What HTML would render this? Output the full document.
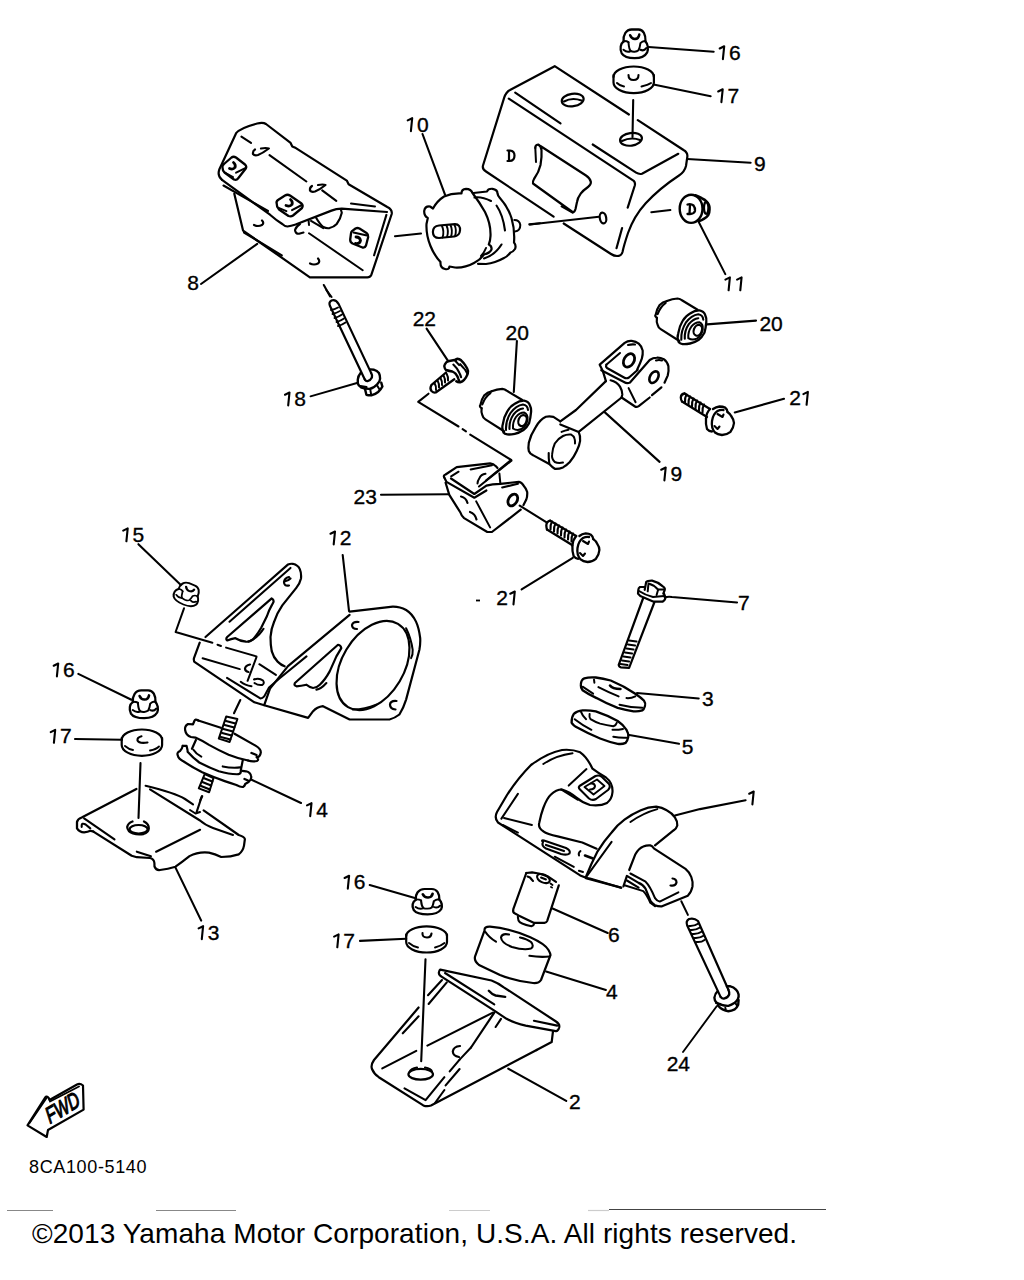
<!DOCTYPE html>
<html><head><meta charset="utf-8">
<style>
html,body{margin:0;padding:0;background:#fff;}
body{width:1024px;height:1280px;position:relative;overflow:hidden;font-family:"Liberation Sans",sans-serif;}
svg{position:absolute;left:0;top:0;}
.lbl{font-family:"Liberation Sans",sans-serif;font-size:21px;fill:#000;stroke:#000;stroke-width:0.35px;}
.copy{position:absolute;left:32px;top:1218.4px;font-size:28px;color:#000;white-space:nowrap;letter-spacing:0.08px;}
</style></head><body>
<svg width="1024" height="1280" viewBox="0 0 1024 1280">
<g fill="none" stroke="#000" stroke-width="2.2" stroke-linecap="round" stroke-linejoin="round">
<!-- 01_top16_17.svg -->
<!-- nut 16 top -->
<g transform="translate(634.6,36.5) rotate(0) scale(0.97,1.02)" stroke-width="2.3">
<path d="M-11.4,5 C-12,-1 -9,-6.9 -3,-6.9 L4,-6.9 C9,-6.9 11.5,-2 11.3,5"/>
<path d="M-11.4,5 C-14.5,7 -15.5,12 -13.3,16.5 C-11,20 -6,21.2 0,21.2 C6,21.2 11,19 13,15.5 C14.5,12 13.5,7 11.3,5"/>
<path d="M-11.5,13 C-9,15 -6.5,15.5 -4,14.2" stroke-width="2"/>
<path d="M-6.3,5.6 C-6,9 -6,12 -4,14.2 C-2,15.2 2,15.2 4,13.5 C5.5,11 5.8,8 6,6.5 C7.5,5 9,4.5 10.5,4.4" stroke-width="2"/>
<path d="M-11,4.5 C-9,4.5 -7,5 -6.3,5.6" stroke-width="2"/>
<path d="M6,13 C8,14 10.5,13.5 12,11.5" stroke-width="2.1"/>
<path d="M-4.6,-1.2 Q-3,2.6 0.5,2.4 Q4,2.2 4.8,-1.8" stroke-width="2.6"/>
</g>
<path d="M648.6,47 L713.7,51.8" stroke-width="2"/>
<!-- washer 17 top -->
<path d="M613.5,77 A20.2,10.5 0 0 1 653.9,77"/>
<path d="M613.5,75 L613.5,82.5 A20.2,10.6 0 0 0 653.9,82.5 L653.9,75"/>
<path d="M617,83 Q620,86 624,86.5" stroke-width="2"/>
<path d="M641.5,86.5 Q648,85 651,83" stroke-width="2"/>
<path d="M628.5,75 Q628.5,80 633.5,80 Q638.5,80 638.5,75" stroke-width="2.1"/>
<path d="M653.5,84.5 L710.7,96.2" stroke-width="2"/>
<path d="M633.2,100 L632.5,137" stroke-width="2.1"/>

<!-- 02_bracket9.svg -->
<!-- bracket 9 -->
<path d="M553.6,216.7 L486,171.5 Q482,169 483,165.5 L504.2,97.7 Q506,92 510,90 L554.7,66.2 L628.9,114.5"/>
<path d="M637.8,120.1 L683.5,150 Q688,152.5 687.3,157 L686,166 Q684.5,172 679,175.5 Q660,188 645.7,203.2 Q634,216 628,233 Q624,245 622.5,252 Q621.5,256 617,256 Q614,256 611,254 L563.7,223.5"/>
<path d="M515.2,92.7 L560.5,123.4"/>
<path d="M508.8,98.6 L633.75,180.9 Q635.5,182.5 634.8,185.5 L627.7,207.7"/>

<path d="M592.7,144.5 L636.1,172.7 Q639,174.5 642,173.8 L678.3,153.8"/>

<path d="M622.1,228 L616.5,248.2"/>
<!-- window -->
<path d="M540.4,146 L586,175.5 Q590,178 590.9,181.9 Q591,185 588,187 Q583,190.5 580.7,193.6 Q577.5,198 577,202 L575.5,209 Q574.5,212.5 572.5,212 L533,183.5 Q532.5,181.5 534,179 Q539,172 540.5,165 Q542,157 541.5,150 Q541,146 538.2,144.5 Q535,145 535.3,148"/>
<path d="M535.3,148 L536,162" stroke-width="2"/>
<path d="M561.6,206.4 L572.6,212.7" stroke-width="2.1"/>
<!-- holes -->
<ellipse cx="572.7" cy="100" rx="11" ry="6.2" transform="rotate(-8 572.7 100)"/>
<path d="M564,101.5 Q572,97 581.5,100.5" stroke-width="2.1"/>
<ellipse cx="631" cy="139.3" rx="11" ry="6.3" transform="rotate(-8 631 139.3)"/>
<path d="M622,141 Q631,136.5 640,140" stroke-width="2.1"/>
<path d="M507.5,150.5 L510,150.5 Q514.5,151 514.5,155.5 Q514.5,161 509.5,161 L507.5,161 M509,151 L509,161" stroke-width="2.2"/>
<ellipse cx="603" cy="218" rx="3.2" ry="5.5" transform="rotate(-10 603 218)"/>
<path d="M530,224.6 L599,216.8" stroke-width="2"/>
<path d="M651.3,212.2 L670.4,210" stroke-width="2"/>
<path d="M687.2,159 L750.6,162.8" stroke-width="2.1"/>

<!-- 03_cap11.svg -->
<!-- cap 11 -->
<ellipse cx="691.1" cy="208.8" rx="11.4" ry="14.1" stroke-width="2.4"/>
<path d="M695.4,195.3 Q699,196.5 701.7,198.2 Q705,199.5 707.1,202.1 Q710,205.5 709.5,209.4 Q709.5,213 708.1,215.3 Q706.5,217.5 704.2,218.7 Q701.5,220.5 699.3,221.1" stroke-width="2.6"/>
<ellipse cx="706.2" cy="207.8" rx="2.2" ry="6" stroke-width="2.2"/>
<path d="M687.5,204.5 Q691,203.5 693.5,205.5 Q695.5,208 695,211 Q694,214 690,214 L687.5,214 M690,205 L689.5,213.5" stroke-width="2.3"/>
<path d="M698.6,221.8 L725.3,274.1" stroke-width="2"/>

<!-- 04_mount10.svg -->
<!-- mount 10 -->
<path d="M461.5,193.5 Q461.5,189 466,188.9 Q471,189 472.5,193 Q480,203 485,212 Q491,224 490.5,236 Q490.3,241 488.8,244.5 Q492,246 491.5,249.5 Q490,253 484,254.5 Q480,260 474,263 Q465,268 455,267.5 L449.5,266.5 Q449,270 445,269 Q440,268 440.5,262 Q434,255 430.5,246 Q426,235 426.5,224 L427.8,218 Q424,216 424.2,211 Q425,206 430,206.5 L433,208.5 Q437,201 444,196.5 Q452,193 461.5,193.5 Z"/>
<path d="M473.5,193 L487,191.5 Q488,188.5 492.5,188.8 Q497.5,189.5 497.5,193.5 Q498,196 499.5,197.5 Q508,207 511.5,218 Q515,230 514,242.5 Q516.5,245.5 515,249 Q513,252 510.5,252.5 Q507,257 504,258 Q495,263 486,264 L478,263.8"/>
<path d="M474.5,197.5 Q482,196.5 491,201" stroke-width="2.1"/>
<path d="M496.5,205.5 Q503,215 505,230.5" stroke-width="2.1"/>
<path d="M501.5,244.5 Q495,255 484,258.5" stroke-width="2.1"/>
<path d="M486,248 Q484,253 481,256" stroke-width="2"/>
<path d="M514.3,220 Q519.5,220 520.3,225 Q520.3,231 515,231.5" stroke-width="2"/>
<!-- stud -->
<path d="M439,225.5 L455,224.2 Q460.5,224.5 460,230.5 Q459.5,236 454,236.5 L439,238 Q433,238 432.9,232 Q433,226 439,225.5 Z"/>
<path d="M442,226 Q444.5,231.5 442.5,237.5 M446.5,225.5 Q449,231 447,237 M450.5,225 Q453,230.5 451,236.5 M454.5,224.8 Q457,230 455,236.3" stroke-width="1.9"/>
<path d="M395,236.2 L421,233.5" stroke-width="2.1"/>
<path d="M529.3,224.4 L540,223.2" stroke-width="2.1"/>
<path d="M422.5,134 L445,194.7" stroke-width="2.1"/>

<!-- 05_bracket8.svg -->
<!-- bracket 8 -->
<path d="M222,179.8 Q217,176 219.4,169.2 L236.1,133.2 Q240,128 257.2,123.5 Q263,122 266,124 L290.6,142.9 L292.3,146.4 L295.9,148.1 L346.8,180.6 L348.6,184.2 L387.3,207 Q392.5,209.5 391.7,214 L371.4,274.7 Q370,277.5 367,277.3 L309.9,277.3 L243.1,230.7 L234.3,193.8"/>
<path d="M222,179.8 L270,214.7 Q276,220 282.3,224 Q285,226.5 287.4,226.5 Q291,226 295.6,224.5 L331.5,210.6 Q336,208.8 341.8,208.6 L387,212"/>
<path d="M223.5,185.5 L268,211" stroke-width="2.1"/>
<path d="M386.4,214.9 L374.1,255.3" stroke-width="2.1"/>
<path d="M309,233.2 L362.7,270.3" stroke-width="2"/>
<path d="M244,232.5 L281.8,255.4" stroke-width="2.1"/>
<path d="M316.1,217.8 Q320,224.5 323.3,227 Q326,228.5 329.5,228.1 Q334,227 336.7,224 Q340.5,219 341.8,212.7 L341,210" stroke-width="2.1"/>
<path d="M311,220.9 L323.3,228.1" stroke-width="2"/>
<path d="M300,224 Q296,226.5 295,230 Q295.5,234 299,233.8 L303.5,232.5" stroke-width="2.1"/>
<path d="M308.5,219.9 L309,225" stroke-width="2"/>
<path d="M351,203.5 L375,206.5" stroke-width="2"/>
<!-- nuts -->
<path d="M222.5,167.5 Q222,165.5 224,164 L231.5,157.5 Q233.5,156 236,157.5 L245,164.5 Q247,166.5 245.8,168.5 L238,178.5 Q236.5,180.5 234,179.5 L224.5,172.5 Q222.5,170.5 222.5,167.5 Z" stroke-width="2.3"/>
<path d="M224.7,172.5 L233,177.1 M236.1,172.7 L245.8,167.9" stroke-width="2"/>
<path d="M233.5,162.5 Q236,164.5 235,167.5 Q233,170 229.5,168.5" stroke-width="2.8"/>
<path d="M276.7,203.5 Q276,201.5 278,200 L285,195.5 Q287.5,194 290,195.5 L301.5,203.5 Q303.5,205.5 302,208 L293,215.5 Q291,217 288.5,216 L279,209.5 Q276.5,207 276.7,203.5 Z" stroke-width="2.3"/>
<path d="M279.2,208.1 L286.4,211.1 M292,210.1 L301.8,205" stroke-width="2"/>
<path d="M290.5,199.5 Q293,201.5 292,204.5 Q290,207 286,205.5" stroke-width="2.8"/>
<path d="M352,231.1 L355.5,228.5 Q357.5,227.5 359.5,228.5 L366.5,233 Q368.5,234.5 368.2,237 L366,245.5 Q365,248 362.5,247.5 L352.5,243.5 Q350,242 350.2,239.5 L351,233.5 Q351.2,231.8 352,231.1 Z" stroke-width="2.3"/>
<path d="M353.5,232.5 L367,235.5" stroke-width="2.1"/>
<path d="M356,237 Q360,237 360.5,240.5 Q360,244 355.5,243.5" stroke-width="2.8"/>
<!-- slots and dots -->
<path d="M255,149.5 Q252.5,151 253,154 Q254.5,156 258,155 Q263,153 268.8,148.5 Q266,147.5 261,148.5" stroke-width="2.2"/>
<path d="M312,186 Q309.5,187.5 310,190.5 Q311.5,192.5 315,191.5 Q320,189.5 325.5,185 Q323,184 318,185" stroke-width="2.2"/>
<path d="M262,220.5 Q264.5,223 262,225 Q258,227 254,225" stroke-width="2.2"/>
<path d="M318,258.5 Q320.5,261.5 318,263.5 Q314,265.5 310,263.5" stroke-width="2.2"/>
<path d="M241.4,136.7 L251,142.9" stroke-width="2.1"/>
<path d="M269.5,155.2 L306.4,181.5" stroke-width="2.1"/>
<path d="M322.2,190.3 L336.3,200.9" stroke-width="2.1"/>
<path d="M201,284 L257.2,243.9" stroke-width="2.1"/>
<path d="M323.8,285 L330,296.3" stroke-width="2.1"/>

<!-- 06_bolt18_22.svg -->
<!-- bolt 18 -->
<path d="M364.8,379.5 L329.9,305.8 Q328.5,302 331.5,300.5 Q335.5,299 338.7,304.1 L371.1,372.9"/>
<path d="M331,310 Q334.5,309.5 338,307.5 M332.5,314 Q336.5,313 340,311 M334.5,318 Q338.5,317 342,314.5 M336.5,322 Q340.5,321 344,318.5 M338,326 Q342,325 345.5,322.5" stroke-width="1.9"/>
<path d="M364.8,379.5 Q366,381.5 367.6,381.1 Q370.5,380.5 371.9,377.6 Q372.5,375 371.1,372.9" stroke-width="2.3"/>
<path d="M360.9,372.5 Q358,376 357.8,379.5 L357.8,383.4 Q358.5,386 360.9,387.3 Q365,389 369.5,388.9 Q374,388 377.3,384.2 Q380,381.5 380.1,378.75 Q380,375 378.9,372.9 Q377,370.5 374.2,369.8 L370.3,369.4" stroke-width="2.4"/>
<path d="M364.8,388.1 L366.4,394.8 Q369,395.5 371.9,395.2 Q375.5,394 378.1,392 Q381,389.5 382.4,386.6 L381.25,382.7" stroke-width="2.4"/>
<path d="M370.3,389.7 L371.1,394.4 M377.3,385.8 L379.7,389.7" stroke-width="2"/>
<path d="M360.5,386 L366.5,387" stroke-width="2.2"/>
<path d="M310.5,396.3 L357,383" stroke-width="1.9"/>
<path d="M326.4,290 L331.6,297" stroke-width="2"/>
<!-- bolt 22 -->
<path d="M431.3,385.2 Q429.5,388.5 431.5,391 Q433.5,393 435.7,392.5 L454.3,379.3 M431.3,385.2 L446,372.5" stroke-width="2.3"/>
<path d="M434.5,383 Q436.5,386.5 436,390 M437.5,380.5 Q439.5,384 439,387.5 M440.5,378 Q442.5,381.5 442,385 M443.5,375.5 Q445.5,379 445,382.5 M446.5,373.5 Q448.5,377 448,380.5" stroke-width="2"/>
<path d="M448,361.2 Q446,362 445,364.2 Q444,366 444.5,367.1 Q444.8,369 446,370 Q449,371 452.3,371.5 Q454.5,372.5 455.8,373.9 Q457.5,376 458.2,378.3 L459.2,381.2" stroke-width="2.4"/>
<path d="M448,361.2 L455.8,359.8" stroke-width="2.4"/>
<path d="M455.8,359.8 Q456.5,358.8 457.2,358.8 Q459.5,359 461.1,360.3 Q463.5,362.5 465.5,365.6 Q467.5,368.5 468,371 Q468,373.5 467,375.4 Q466,378 464.1,379.8 Q462.5,381.5 460.2,382.2 Q458,382.5 456.3,381.2" stroke-width="2.5"/>
<path d="M454.8,360.3 L459.2,365.1 M460.2,364.2 L464.1,368.6 M465,369.5 L467,373" stroke-width="2.1"/>
<path d="M453.3,364.6 Q457,368 459.2,372.5 Q460.5,375 461.1,377.3" stroke-width="2.1"/>
<path d="M426.6,328.7 L447.7,360.3" stroke-width="2.1"/>
<!-- dash-dot line 22 to 23 -->
<path d="M428.5,393.7 L418.2,401.9 L458.5,426.5" stroke-width="2.1"/>
<path d="M462.6,429.2 L466,431.3" stroke-width="2.1"/>
<path d="M470.2,434.7 L511.2,460 L486,480.5" stroke-width="2.1"/>

<!-- 07_bush20mid.svg -->
<!-- bushing 20 mid -->
<path d="M491.6,391.3 Q497,389 502.3,388.8 Q505,389 506.6,390.6 L522.3,400"/>
<path d="M481.6,408.1 Q481,412.5 482.3,415 Q483,418 485.4,419.4 L504.1,431.3"/>
<path d="M481.6,408.1 Q479,406.5 480.4,405 Q481.5,399 484.1,395.6 Q487.5,392 491.6,391.3"/>
<path d="M482.3,404.4 Q485,397 490.4,393.1" stroke-width="2.1"/>
<path d="M503.5,432.5 Q501.5,428 502.9,423.8 Q504,416.5 507.3,411.3 Q510.5,406 514.8,403.8 Q519.5,400.5 524.1,400.6 Q528.5,401.5 529.8,405 Q531.5,408.5 531,412.5 Q530.5,418.5 529.1,423.1 Q526.5,428 523.5,430 Q519,433 514.8,433.8 Q510,434.8 507.3,434.4 Q504.5,434 503.5,432.5" stroke-width="2.3"/>
<path d="M506,430 Q505.5,421 510.5,413 Q516,405.5 523,404.5 Q527.5,405 528,410" stroke-width="2.1"/>
<path d="M509.5,429 Q509,421 513.5,414.5 Q518,409 523,408.5" stroke-width="2.1"/>
<path d="M513,428.5 Q512.5,422 516,417 Q519.5,412.5 524,412.5 Q528,414 527.5,419.5 Q526.5,426 521.5,429 Q517,431 513,428.5" stroke-width="2"/>
<ellipse cx="522.5" cy="420.6" rx="4" ry="5.6" transform="rotate(20 522.5 420.6)" stroke-width="2.2"/>
<path d="M516.9,341 L513.8,392" stroke-width="2.1"/>

<!-- 08_link19.svg -->
<!-- bushing 20 right -->
<g transform="translate(175.3,-90.3)">
<path d="M491.6,391.3 Q497,389 502.3,388.8 Q505,389 506.6,390.6 L522.3,400"/>
<path d="M481.6,408.1 Q481,412.5 482.3,415 Q483,418 485.4,419.4 L504.1,431.3"/>
<path d="M481.6,408.1 Q479,406.5 480.4,405 Q481.5,399 484.1,395.6 Q487.5,392 491.6,391.3"/>
<path d="M482.3,404.4 Q485,397 490.4,393.1" stroke-width="2.1"/>
<path d="M503.5,432.5 Q501.5,428 502.9,423.8 Q504,416.5 507.3,411.3 Q510.5,406 514.8,403.8 Q519.5,400.5 524.1,400.6 Q528.5,401.5 529.8,405 Q531.5,408.5 531,412.5 Q530.5,418.5 529.1,423.1 Q526.5,428 523.5,430 Q519,433 514.8,433.8 Q510,434.8 507.3,434.4 Q504.5,434 503.5,432.5" stroke-width="2.3"/>
<path d="M506,430 Q505.5,421 510.5,413 Q516,405.5 523,404.5 Q527.5,405 528,410" stroke-width="2.1"/>
<path d="M509.5,429 Q509,421 513.5,414.5 Q518,409 523,408.5" stroke-width="2.1"/>
<path d="M513,428.5 Q512.5,422 516,417 Q519.5,412.5 524,412.5 Q528,414 527.5,419.5 Q526.5,426 521.5,429 Q517,431 513,428.5" stroke-width="2"/>
<ellipse cx="522.5" cy="420.6" rx="4" ry="5.6" transform="rotate(20 522.5 420.6)" stroke-width="2.2"/>
</g>
<path d="M706.9,324.4 L756,320.6" stroke-width="2.1"/>
<!-- link 19 eye -->
<path d="M560.3,421.3 L553.4,416.8 Q549,416 545.9,416.8 Q540,419.5 535.7,427.1 Q530.5,435 528.8,442.8 Q528,448 528.8,451 Q530,454 532.9,455.1 L549.3,464 Q552,467 554.8,468.8 Q559,469 563,467.4 Q567,465 569.8,462 Q574,457 576.7,451 Q579.5,445.5 580.1,440.8 Q580.5,435.5 578.7,431.9 L560.3,424.4"/>
<path d="M563,462.6 Q558,463.5 554.8,462 Q551.5,459 552.1,454.4 Q552.5,448.5 554.8,443.5 Q558,438.5 563,436 Q567,434 571.2,434.6 Q574,436 574.6,438.7 Q575.2,441 575,443.5" stroke-width="2"/>
<path d="M561.6,431.9 Q565,430.5 568.5,429.8" stroke-width="2.1"/>
<path d="M548.7,453 Q548.5,458 549.3,463.3" stroke-width="2.1"/>
<!-- rod -->
<path d="M560.3,421.3 L576,410 L605.9,381.1"/>
<path d="M578.7,431.9 L621.6,397.5"/>
<!-- clevis -->
<path d="M605.9,381.1 L602.8,370.9 L599.7,364.7 L624.7,342.8 Q628,340.5 631.7,340.9 Q636,341.5 638.75,343.6 Q642,346.5 642.7,350.6 Q643,354.5 641.9,358.4 Q640,364 637.2,369.4"/>
<path d="M606.3,364.7 L620,353" stroke-width="2"/>
<path d="M628,345 Q632,344 635,344.5" stroke-width="2.1"/>
<path d="M606.3,364.7 Q605.5,366.5 607,368 L624,377.5 Q626.5,379 629,377.5 L637.6,370" stroke-width="2.2"/>
<path d="M601.25,370.2 L624,382 Q627,384 630,382.5 L649.7,360 Q653,357.8 656.7,357.7 Q660.5,357.5 663.75,359.2 Q667.5,362 668.4,366.25 Q669,371 667.7,375.6 L664.5,382.7"/>
<path d="M656,360.5 Q659,359.5 662,360.5" stroke-width="2.1"/>
<path d="M661.4,387.3 L652,395.2 M649.7,397.5 L638.75,406.1 Q636.5,407.5 635,406.5 L621.6,397.5"/>
<path d="M610.6,380.3 Q617,382 620,386.6 Q622.5,391 622.3,394.4 L621.6,397.5"/>
<path d="M628.6,388.1 L635.6,402.2" stroke-width="2"/>
<ellipse cx="629" cy="360.4" rx="5" ry="7.2" transform="rotate(30 629 360.4)" stroke-width="2.8"/>
<path d="M631,356.5 Q628,359 628,363" stroke-width="2" stroke="#fff"/>
<ellipse cx="654" cy="377.2" rx="4" ry="6.3" transform="rotate(30 654 377.2)" stroke-width="2.6"/>
<path d="M655.5,374 Q653,376 653,380" stroke-width="1.8" stroke="#fff"/>
<path d="M604.9,412.4 L659.6,461.9" stroke-width="2.1"/>
<!-- bolt 21 right -->
<path d="M684.5,393.5 L710,409 M682,401.5 L707,417" stroke-width="2.3"/>
<path d="M684.5,393.5 Q681,394 680.8,397.5 Q681,400.5 682,401.5" stroke-width="2.3"/>
<path d="M686.5,394.5 Q684.5,398 685,402.5 M690,396.5 Q688,400 688.5,404.5 M693.5,398.5 Q691.5,402 692,406.5 M697,400.5 Q695,404 695.5,408.5 M700.5,402.5 Q698.5,406 699,410.5 M704,404.5 Q702,408 702.5,412.5" stroke-width="2.1"/>
<path d="M706,418.5 Q705.5,424 707,429 Q709,431.5 712,431.5 M713,409 Q716,407 719.5,406.5 Q723,406.5 725,407.5 Q727.5,409.5 727.5,412" stroke-width="2.3"/>
<path d="M710,409 Q706.5,412.5 706,418.5" stroke-width="2.3"/>
<path d="M727.5,412 Q730.5,414 731.5,416.5 Q734,420 734,423 Q733.5,428 730.5,431.8 Q726.5,435 722,435 Q717.5,434.5 715,432.5 Q711,428 712,421 Q713,414 717.5,411 Q720.5,409.5 723.5,410" stroke-width="2.3"/>
<path d="M717.5,414 L722.5,417 L723.5,414.5 M714.5,426 L717.5,429 L719.5,426.5" stroke-width="2.1"/>
<path d="M734.8,412.4 L784,398.8" stroke-width="2.1"/>

<!-- 09_bracket23.svg -->
<!-- bracket 23 -->
<path d="M444.2,477.3 Q443,475.5 445.6,474.5 L456.7,467.1 L490.1,463.3 Q493.5,463.5 495.7,466.1 L497.5,468"/>
<path d="M444.2,477.3 L446.5,481.9 L474.3,497.7 L486.4,490.5"/>
<path d="M451.1,476.3 L458.6,471.7" stroke-width="2"/>
<path d="M451,478.5 L474.3,494 L486.4,485.6 Q492,484 500.3,483.8 L518.9,481.9 Q522,482.5 523.5,485.6 Q526.5,489 527.2,492.1 Q527.5,496 526.3,499.5 L523.5,505.1"/>
<path d="M470.6,469.4 L492,465.2" stroke-width="2"/>
<path d="M502.2,487.5 L517.9,483.8" stroke-width="2.1"/>
<path d="M520.7,509.7 L491.9,532 L487.3,532 L464.1,518.1 Q461.5,516 460.4,512.5 L449.3,494.9 L445.6,482.8"/>
<path d="M476.2,501.4 L490.1,527.4" stroke-width="2"/>
<path d="M485.5,473.8 Q481,474.5 479.5,478 Q477.5,481 477.5,483.5" stroke-width="2"/>
<path d="M499.4,473.6 L500.3,482.8" stroke-width="2"/>
<ellipse cx="512.8" cy="500" rx="4.3" ry="6.3" transform="rotate(30 512.8 500)" stroke-width="2.8"/>
<path d="M514,497 Q512,499 512,503" stroke-width="1.8" stroke="#fff"/>
<path d="M461,496.5 Q466,497.5 467.5,503" stroke-width="2.2"/>
<path d="M470,512 Q475,513.5 476.5,519.5" stroke-width="2.2"/>
<path d="M511.4,460.6 L479,486.5" stroke-width="2.1"/>
<path d="M381,494.8 L448.5,494.2" stroke-width="2.1"/>
<!-- bolt 21 mid -->
<path d="M550.2,520.7 L576.2,536 M547,529.6 L571.7,544.8" stroke-width="2.3"/>
<path d="M550.2,520.7 Q546.5,521.5 546.3,525.5 Q546.5,528.5 547,529.6" stroke-width="2.3"/>
<path d="M552,521.5 Q550,525 550.5,529.5 M555.5,523.5 Q553.5,527 554,531.5 M559,525.5 Q557,529 557.5,533.5 M562.5,527.5 Q560.5,531 561,535.5 M566,529.5 Q564,533 564.5,537.5 M569.5,531.5 Q567.5,535 568,539.5 M573,533.5 Q571,537 571.5,541.5" stroke-width="2.1"/>
<path d="M572.4,545.5 Q572,551 573.7,556.3 Q575.5,558.5 578.1,558.8 M579.4,536 Q582,534 585.7,533.4 Q589,533.5 590.8,534.7 Q593,536.5 593.3,539.1" stroke-width="2.3"/>
<path d="M576.2,536 Q573,539.5 572.4,545.5" stroke-width="2.3"/>
<path d="M593.3,539.1 Q596,541 597.1,543.6 Q599.5,547 599.4,550 Q599,555 595.9,558.8 Q592,562 587.6,562 Q583,561.5 580.6,559.4 Q576.5,555 577.5,548 Q578.5,541 583,538 Q586,536.5 589,537" stroke-width="2.3"/>
<path d="M583,541 L588,544 L589,541.5 M580,553 L583,556 L585,553.5" stroke-width="2.1"/>
<path d="M519.7,505.6 L546.2,522.2" stroke-width="2.1"/>
<path d="M572.8,557.9 L521.6,589.4" stroke-width="2.1"/>

<!-- 10_bracket12.svg -->
<!-- bracket 12 -->
<path d="M205.5,637 L288.1,564.4 Q290,563.5 292.8,563.8 Q298,565 299.8,569.1 Q301.5,573 301,578.4 Q300,583 296.3,587.8 L282.3,605.4 Q277,613 274.1,621.8 Q271,629 270.5,637 Q270.5,645 271.7,651.1 Q273.5,657.5 277.6,661.6 Q281,665 284.6,666.3"/>
<path d="M229.5,621.8 L290.5,567.9" stroke-width="2"/>
<path d="M199.7,642.7 L193.9,658.3 Q193.5,661 194.8,662.2 L254.4,702.3 L264.2,705.2 L308.1,717.9 L313.1,711.2 Q317,707 323,706.2 L349.6,719.5 L389.5,719.5 Q395,718 399.4,714.5 Q403.5,708 406.1,699.6 L419.4,649.8 Q420.5,644 420.2,638.2 Q419,628 416,621.6 Q412,613.5 406.1,610 Q400,606.5 392.8,606.6 L349.6,611.6"/>
<path d="M264.2,705.2 L270,688.6 L288,666.1 L349.6,614.9"/>
<path d="M227,677.9 L260.3,698.4 Q262.5,698.5 264.2,696.4 L269,687.6 L280,678 L306.5,656.4" stroke-width="2"/>
<path d="M202.6,658.3 L239.8,669.1" stroke-width="2"/>
<path d="M259.3,664.2 L275.9,674.9" stroke-width="2"/>
<!-- upper triangle cutout -->
<path d="M227.2,637 L271.7,598.4 Q274,599.5 273.5,601.9 L271.7,605.4 Q269,610 267,616 Q264,622 261.2,627.7 Q257,635 253,639.4 Q250,642 245.9,641.7 Q240,641 235.4,638.2 Q231,639 227.2,640.5 Q225.5,639 227.2,637 Z"/>
<path d="M263.5,628.8 Q258,638 248.3,641.7" stroke-width="2.1"/>
<path d="M289,577 Q284.5,578 284,582 Q284,586.5 289,585.5 M284.5,581.5 Q288,581 290.5,578.5" stroke-width="2.2"/>
<!-- ring hole -->
<ellipse cx="373" cy="665.5" rx="31" ry="48.5" transform="rotate(31 373 665.5)"/>
<path d="M406.1,628.2 Q411,638 412.7,649.8 Q413,655 411.1,658.1" stroke-width="2"/>
<path d="M353,709.6 Q365,709 376.2,704.6" stroke-width="2"/>
<!-- lower triangle cutout -->
<path d="M294.9,683 L338,644.8 Q341,645.5 341.3,648.1 Q339,652 336.4,656.4 Q333,664 329.7,671.4 Q325,680 319.8,684.7 Q316.5,688 313.1,688 Q309,687 306.5,684.7 Q301,686 296.5,686.3 Q293.5,685.5 294.9,683 Z"/>
<path d="M326.4,683 Q321,689 316.4,689.6" stroke-width="2.1"/>
<path d="M358.5,622 Q353,621.5 352,625 Q352,629 357,629" stroke-width="2.2"/>
<path d="M396.5,701 Q390.5,700.5 390,704.5 Q390,709 395.5,709.5" stroke-width="2.2"/>
<!-- center details -->
<path d="M250,664.5 Q245.5,665.5 245,668.5 Q245,671.5 248.5,672" stroke-width="2.2"/>
<path d="M256.4,657.3 L247.6,680.8" stroke-width="2"/>
<path d="M254,679.5 Q259,677.5 263,680.5 Q265,683.5 262,685 Q258,685.5 254.5,683" stroke-width="2"/>
<path d="M240.7,681.8 Q245,685.5 251.5,686.2" stroke-width="2"/>
<path d="M342.7,555 L349,610.9" stroke-width="2.1"/>
<!-- dash line from 15 -->
<path d="M184,608.3 L175.6,632 L212.4,642.7" stroke-width="2"/>
<path d="M217.5,644.7 L221,646" stroke-width="2"/>
<path d="M226.1,647.6 L256.4,656.4" stroke-width="2"/>

<!-- 11_left_hw.svg -->
<!-- nut 15 -->
<g transform="translate(189.6,589.2) rotate(22) scale(0.9,0.78)" stroke-width="2.3">
<path d="M-11.4,5 C-12,-1 -9,-6.9 -3,-6.9 L4,-6.9 C9,-6.9 11.5,-2 11.3,5"/>
<path d="M-11.4,5 C-14.5,7 -15.5,12 -13.3,16.5 C-11,20 -6,21.2 0,21.2 C6,21.2 11,19 13,15.5 C14.5,12 13.5,7 11.3,5"/>
<path d="M-11.5,13 C-9,15 -6.5,15.5 -4,14.2" stroke-width="2"/>
<path d="M-6.3,5.6 C-6,9 -6,12 -4,14.2 C-2,15.2 2,15.2 4,13.5 C5.5,11 5.8,8 6,6.5 C7.5,5 9,4.5 10.5,4.4" stroke-width="2"/>
<path d="M-11,4.5 C-9,4.5 -7,5 -6.3,5.6" stroke-width="2"/>
<path d="M6,13 C8,14 10.5,13.5 12,11.5" stroke-width="2.1"/>
<path d="M-4.6,-1.2 Q-3,2.6 0.5,2.4 Q4,2.2 4.8,-1.8" stroke-width="2.6"/>
</g>
<path d="M138.4,544.2 L180.6,584.8" stroke-width="2.1"/>
<!-- nut 16 left -->
<g transform="translate(144.2,697.2) rotate(0) scale(1,0.99)" stroke-width="2.3">
<path d="M-11.4,5 C-12,-1 -9,-6.9 -3,-6.9 L4,-6.9 C9,-6.9 11.5,-2 11.3,5"/>
<path d="M-11.4,5 C-14.5,7 -15.5,12 -13.3,16.5 C-11,20 -6,21.2 0,21.2 C6,21.2 11,19 13,15.5 C14.5,12 13.5,7 11.3,5"/>
<path d="M-11.5,13 C-9,15 -6.5,15.5 -4,14.2" stroke-width="2"/>
<path d="M-6.3,5.6 C-6,9 -6,12 -4,14.2 C-2,15.2 2,15.2 4,13.5 C5.5,11 5.8,8 6,6.5 C7.5,5 9,4.5 10.5,4.4" stroke-width="2"/>
<path d="M-11,4.5 C-9,4.5 -7,5 -6.3,5.6" stroke-width="2"/>
<path d="M6,13 C8,14 10.5,13.5 12,11.5" stroke-width="2.1"/>
<path d="M-4.6,-1.2 Q-3,2.6 0.5,2.4 Q4,2.2 4.8,-1.8" stroke-width="2.6"/>
</g>
<path d="M78.3,673.9 L131.4,699.7" stroke-width="2.1"/>
<!-- washer 17 left -->
<path d="M121.7,740 A20.2,10.5 0 0 1 162.1,740"/>
<path d="M121.7,738 L121.7,745 A20.2,10.8 0 0 0 162.1,745 L162.1,738"/>
<path d="M125,746 Q129,749.5 133,750" stroke-width="1.9"/>
<path d="M150,750.5 Q156,749.5 159,746.5" stroke-width="1.9"/>
<path d="M141.5,736.3 Q137,737.5 137.5,740.5 Q139,743.8 147.5,742.5" stroke-width="2.1"/>
<path d="M75,739 L121.7,739.8" stroke-width="2.1"/>
<path d="M140.5,763.1 L138.5,818" stroke-width="2.1"/>
<!-- mount 14 -->
<path d="M198.3,720.5 L220.8,727.8 M234.5,733.7 L255.9,745.9 Q261,749 260.8,752.5 Q260,757.5 256.5,757 Q259.5,759 257,761 Q252,762 248.1,760.5"/>
<path d="M198.3,720.5 Q195,718.5 194.4,721 L193,724.3 L188,724 Q184.5,726 185.1,730 Q186,735.5 191,737 L195.4,737.6 Q203,741 209,744.9 Q218,750 228.6,754.7 Q238,758.5 248.1,760.5"/>
<path d="M195.9,740 L192,748.8 M242.8,760 L240.8,770.3" />
<path d="M193.4,749.8 Q196,754 201.3,756.6" stroke-width="2.1"/>
<path d="M222.7,766.4 Q232,768.5 240.3,767.4" stroke-width="2.1"/>
<path d="M187.6,751.8 Q193,758 199.3,762.5 Q210,768 218.8,771.3 Q230,774.5 238.4,774.2 Q241,773.5 240.8,771.3"/>
<path d="M182.7,745.9 L186.6,745.9 L187.6,750.5"/>
<path d="M182.7,745.9 Q182,749.5 180,751 Q176.5,752.5 177.8,755.5 Q178.5,759 183.7,761.5 Q192,767 202.2,772.3 Q213,777 224.7,781.1 Q232,783.5 236.4,785 Q241,787.5 243.2,786.9 Q245,785.5 245.2,784 L248.5,782 Q252,779.5 251.1,776 Q250.5,772.5 246,771.3 L242.3,770.8"/>
<path d="M244.5,779 L248,780.5" stroke-width="2.4"/>
<path d="M251.5,753 L256.5,755" stroke-width="2.4"/>
<!-- studs -->
<path d="M226.2,716.6 L237.4,719 L229.6,742 L218.8,738.6 Z" stroke-width="2"/>
<path d="M226,721 L235.5,723.5 M224.7,725 L234.3,727.5 M223.4,729 L233,731.5 M222.1,733 L231.7,735.5 M220.8,737 L230.4,739.5" stroke-width="2.1"/>
<path d="M204.7,774.2 L213.5,778.1 L209.1,792.3 L198.8,788.4 Z" stroke-width="2"/>
<path d="M203.5,778 L212.3,781.5 M202.3,782 L211.1,785.5 M201.1,786 L209.9,789.5" stroke-width="2.1"/>
<path d="M240.3,700 L234,713.2" stroke-width="2.1"/>
<path d="M202.2,796.2 L200.3,800" stroke-width="2.1"/>
<path d="M251.1,779.5 L301,803" stroke-width="2.1"/>


<!-- 12_plate13.svg -->
<!-- plate 13 -->
<path d="M136.4,789 L81.7,817.5 Q77.5,819 77,822 L77,828.4 Q79.5,832.3 84.1,832.3 Q88,832 90.3,830.8 Q92,830.8 93.4,831.6" stroke-width="2.3"/>
<path d="M81.7,826.9 Q81.5,824 82.5,823.75 Q84,823.5 85.6,824.5 L90.3,828.4" stroke-width="2.1"/>
<path d="M84.1,818.3 L114.5,839.4" stroke-width="2.1"/>
<path d="M93.4,831.6 L131.7,855.8 L136.8,857.2 L150,858 Q154,859 154.4,863 L154.5,866.5 Q156,870.5 160,870 Q168,869 175.5,866.7 Q182,862 189.5,856.1 Q198,851.5 208.9,852.6 Q215,854 221.2,857 Q231,857 238.7,854.4 Q243,851 244,845.6 L244.9,839 Q244,836.5 238.7,835 L203.6,810.4"/>
<path d="M136.8,851.7 L150.9,856.3" stroke-width="2.1"/>
<path d="M145.6,785.8 Q175,793 185,799 L193,804.3" stroke-width="2.1"/>
<path d="M150,789.3 L200,820.5 Q205,825 213,828 L233,835" stroke-width="2.1"/>
<path d="M156.1,851.7 L200.1,829.8" stroke-width="2.1"/>
<path d="M132.5,821.5 Q128,823 127.2,827 Q127.5,831.5 133,833.5 Q138,835 143.5,834 Q148.5,832.5 148.8,828.5 Q149,824 144,821.5" stroke-width="2.3"/>
<ellipse cx="138.6" cy="829.3" rx="9" ry="4.3" stroke-width="2.2"/>

<path d="M201.8,796.4 L196.6,812.2" stroke-width="2.1"/>
<path d="M190,810 L195.5,813.5 L200,812" stroke-width="2"/>
<path d="M175.5,867.6 L201.2,920.6" stroke-width="2.1"/>

<!-- 13_bolt7_washers.svg -->
<!-- bolt 7 -->
<path d="M644.7,589.8 L646.2,582 Q647.5,580.5 652.1,580.6 Q658,582 662.5,586.1 Q665.5,588 664.7,590 L663.3,593.6"/>
<path d="M648.4,584.7 L647.7,591.3 M658.1,589.8 L656.6,595" stroke-width="2"/>
<path d="M648.5,583.5 Q654,585 658,589.5 L664,589.5" stroke-width="2.1"/>
<path d="M644.7,587 L640,587 Q638.3,588 638.3,590 L638,593.6 Q640,596.5 643.2,597.3 L653.6,601.7 L662.5,601.7 Q665.5,600 665.5,597.3 L664,593.6"/>
<path d="M639,591 Q645,595 653,597 L664,596" stroke-width="2.1"/>
<path d="M643.2,598 L618.7,664.8 Q619,667 621,667.3 L629.1,667.8 L654.3,602.5"/>
<path d="M629,640.5 L636.5,641.5 M628,644.5 L635,645.5 M626.5,648.5 L633.5,649.5 M625,652.5 L632,653.5 M623.5,656.5 L630.5,657.5 M622,660.5 L629,661.5 M620.5,664 L627.5,665" stroke-width="2.1"/>
<path d="M664.7,597.3 Q668,596.5 672,597 L737,602.5" stroke-width="2.1"/>
<!-- washer 3 -->
<path d="M580.8,684.9 Q581,679.5 584.3,678.3 Q589,677 595.8,677.5 Q603,678.5 610.7,680.5 Q624,686 635.3,693.7 Q641,697.5 644.1,700.8 Q646,703.5 645,706 Q644,709.5 642.3,710.4 Q638,711.8 633.5,711.3 Q626,710 617.7,707.8 Q606,703.5 596.6,698.1 Q588,694 582.6,690.2 Q580.5,687.5 580.8,684.9 Z" stroke-width="2.3"/>
<path d="M582.6,686.7 L593.1,693.7" stroke-width="2"/>
<path d="M598.4,687.1 Q608,692 618.6,696.4" stroke-width="2"/>
<path d="M626.5,698.1 Q631,698.5 635.3,696.4" stroke-width="2"/>
<path d="M619.5,704.7 Q630,707.5 642.3,707.8" stroke-width="2"/>
<path d="M610,685.5 Q612.5,689 620.4,689" stroke-width="2.6"/>
<path d="M594,679.7 L594.4,682.7" stroke-width="2"/>
<path d="M637,693 L698.7,698.5" stroke-width="2.1"/>
<!-- washer 5 -->
<path d="M571.6,722.7 Q571.5,717 573.8,713.9 Q577,711 582.6,710.4 Q589,710 595.8,711.3 Q607,715 617.7,721 Q623,724.5 626.5,729.8 Q628.5,733 628.3,736.8 Q627.5,741 625.6,742.9 Q622,744.5 617.7,743.8 Q609,742 600.1,738.5 Q588,733.5 578.2,728 Q573,725.5 571.6,722.7 Z" stroke-width="2.3"/>
<path d="M589.6,713.9 Q589,717.5 590.5,719.2 Q595,722 600.1,723.6 Q607,725.5 613.3,726.2 Q616,725.5 616.8,722.7" stroke-width="2"/>
<path d="M580.8,711.3 Q582.5,716 586.1,719.2" stroke-width="2"/>
<path d="M574.7,719.2 Q582,725 591.4,729.8" stroke-width="2"/>
<path d="M612.5,729.8 Q618,730 623,728.9" stroke-width="2"/>
<path d="M613.3,736.8 Q620,738 626.5,737.7" stroke-width="2"/>
<path d="M629.3,735 L679,743.8" stroke-width="2.1"/>

<!-- 14_bracket1.svg -->
<!-- bracket 1 -->
<path d="M596.6,848.7 L582.3,842.5 L557.7,836.4 Q547,834 543.3,831.3 Q538,828 539.2,823 Q541,814 543.3,808 Q547,798 551,794.5 Q556,789.5 562,789.5 Q570,792 576.1,797.4 Q582,802.5 590,805 Q600,806.5 607,803 Q612,799 612.5,792 Q613,783 606,777.5 Q598,773 592.5,768.7 Q587,757 580.2,752.3 Q572,749 562,750 Q548,752.5 531,765 Q518,778 507,795 L497,812 Q494,818 498,822.5 L580.2,875.4 Q586,878 590,878.5 L621.3,887.7"/>
<path d="M501.4,818.6 L517.9,793.9" stroke-width="2"/>
<path d="M543.3,764 Q556,755.5 572.5,753.3" stroke-width="2"/>
<path d="M504,818 L531.9,825" stroke-width="2"/>
<path d="M502.7,825 L517.9,832.6" stroke-width="2"/>
<path d="M554.7,856.7 L573.8,866.9" stroke-width="2"/>
<path d="M578.9,870.7 L583,872" stroke-width="2"/>
<path d="M561.1,789.4 L577.6,799.6" stroke-width="2"/>
<path d="M568.7,785.6 L586.5,769.1" stroke-width="2"/>
<!-- square nut -->
<path d="M579.5,786 L595.5,776 Q599,774.5 602,777 L609,784 Q611,787 608,790 L596,799 Q592.5,801 589,798.5 L580,789.5 Q578,787.5 579.5,786 Z" stroke-width="2.1"/>
<path d="M584.5,787 L597,779.5 L604.5,786 L593.5,794.5 Z" stroke-width="1.9"/>
<path d="M591,783.5 Q594.5,783 595,786 Q594.5,789.5 590,789.5" stroke-width="2"/>
<!-- slot -->
<path d="M543,842 Q540.5,840 544,840.5 L566,848 Q571,850.5 569.5,853.5 Q567,855.5 561,854 L546,848.5 Q541,846 543,842 Z" stroke-width="2.1"/>
<path d="M546,845 L564,851" stroke-width="2.2"/>
<path d="M580.5,851 Q578,853 579,855.5" stroke-width="2"/>
<path d="M585,855.5 L593,858.5" stroke-width="2.6"/>
<!-- front arch -->
<path d="M585.9,877 Q591,864 597.6,851.3 Q604,841 611.6,832.5 Q617,825 624.5,819.6 Q632,814 640.9,810.2 Q648,807 656.2,806.7 Q662,807.5 666.7,810.2 Q672,813 674.9,817.3 Q677.5,821 677.3,825.5 Q676.5,828.5 673.8,830.2 L655,845.4"/>
<path d="M611.6,841.9 L587,875.9" stroke-width="2"/>
<path d="M630.4,822 Q643,813 657.3,809.1" stroke-width="2"/>
<path d="M585.9,878.2 L621,887.6"/>
<!-- saddle -->
<path d="M629.2,870 L635.1,854.8 Q638.5,848.5 643.3,846.6 Q647,845 650.3,845.4 Q652.5,846 653.8,848.3 L685.5,868.8 Q689.5,872 691.3,877 Q693,881.5 692.5,886.4 Q691.5,892 687.8,895.8 L662,906.3 Q658,906.5 655,905.2 Q652,903.5 650.3,900.5 L645.6,888.8 Q643,884.5 638.6,882.9 L626.9,875.9 L623.4,886.4"/>
<path d="M630.4,873.5 L645.6,881.7 Q650,886 655,898.1 Q657,901 659.7,901.6 L678.4,892.3" stroke-width="2"/>
<path d="M624.5,885.2 L643.3,891.1 Q647,895 650.3,902.8 L655,906.3" stroke-width="2"/>
<path d="M626.9,880.5 L638.6,887.6" stroke-width="2.1"/>
<path d="M672.5,878.5 Q676.5,879 676.5,882.5 Q675.5,886.5 670.5,885.5" stroke-width="2.2"/>
<path d="M674.9,815.5 L700,809.1 L745.6,800.3" stroke-width="2.1"/>

<!-- 15_sleeve6_block4.svg -->
<!-- sleeve 6 -->
<path d="M526.3,873 L532.1,872.3 Q540,873 547.8,876.4 L556,881.9"/>
<path d="M526.3,873 L513.3,909.2 Q512.5,912.5 515,913.5 L518.5,915.4 L534.2,922.9 L544.4,922.9 Q546.5,922.5 547.2,920.8 L558.8,885.3"/>
<path d="M517.8,916.7 L518.5,920.5 Q520,924 531.4,926.3 Q534,925.5 534.2,923.6" stroke-width="2"/>
<path d="M527.5,876.5 L530,877.5 Q532,880 533,881" stroke-width="2.1"/>
<ellipse cx="543.4" cy="878.6" rx="6.8" ry="3.9" transform="rotate(25 543.4 878.6)" stroke-width="2.1"/>
<path d="M541,877.5 L546,879.5" stroke-width="1.9"/>
<path d="M550.5,883.5 L552.5,885 M551,887 L552,887.5" stroke-width="1.9"/>
<path d="M552.6,908.5 L607.7,933" stroke-width="2.1"/>
<!-- block 4 -->
<path d="M484.6,930.3 Q484,926.5 490,926.7 Q510,928.5 530.3,937.3 Q545,944 548.5,950 Q550.5,953.5 550.5,955 L541,980 Q539,983.5 533,983 Q515,981 500,975 L479,965 Q474,961 475,956.7 L484.6,930.3"/>
<path d="M485.5,932 Q489,937.5 496,941.7" stroke-width="2.1"/>
<path d="M529.4,955.8 Q540,957.5 549.6,956.5" stroke-width="2.1"/>
<path d="M509,934.5 Q502,933 501,937.5 Q501.5,943 512,947 Q524,950.5 531,948.5 Q534.5,946 531,942 Q527,939 520,937.5" stroke-width="2.1"/>
<path d="M546.1,971.6 L605.9,990" stroke-width="2.1"/>

<!-- 16_bracket2_hw.svg -->
<!-- nut 16 bottom -->
<g transform="translate(427.6,895.3) rotate(0) scale(1.04,0.9)" stroke-width="2.3">
<path d="M-11.4,5 C-12,-1 -9,-6.9 -3,-6.9 L4,-6.9 C9,-6.9 11.5,-2 11.3,5"/>
<path d="M-11.4,5 C-14.5,7 -15.5,12 -13.3,16.5 C-11,20 -6,21.2 0,21.2 C6,21.2 11,19 13,15.5 C14.5,12 13.5,7 11.3,5"/>
<path d="M-11.5,13 C-9,15 -6.5,15.5 -4,14.2" stroke-width="2"/>
<path d="M-6.3,5.6 C-6,9 -6,12 -4,14.2 C-2,15.2 2,15.2 4,13.5 C5.5,11 5.8,8 6,6.5 C7.5,5 9,4.5 10.5,4.4" stroke-width="2"/>
<path d="M-11,4.5 C-9,4.5 -7,5 -6.3,5.6" stroke-width="2"/>
<path d="M6,13 C8,14 10.5,13.5 12,11.5" stroke-width="2.1"/>
<path d="M-4.6,-1.2 Q-3,2.6 0.5,2.4 Q4,2.2 4.8,-1.8" stroke-width="2.6"/>
</g>
<path d="M369.7,885 L414.8,897.9" stroke-width="2.1"/>
<!-- washer 17 bottom -->
<path d="M406.2,936 A20.4,9.7 0 0 1 447,936"/>
<path d="M406.2,934.5 L406.2,942 A20.4,10.5 0 0 0 447,942 L447,934.5"/>
<path d="M409,943 Q413,946.5 418,947.5" stroke-width="1.9"/>
<path d="M435,947.5 Q441,946 444.5,943" stroke-width="1.9"/>
<path d="M422.5,933 Q422,937.5 427,937.5 Q431,937.5 431.5,933.5" stroke-width="2.1"/>
<path d="M360,940.9 L406.2,938.7" stroke-width="2.1"/>
<path d="M425.5,959.2 L421.2,1061.2" stroke-width="2.1"/>
<!-- bracket 2 -->
<path d="M440.3,969.6 L491.5,980.5 Q498,983 503.8,987.3 L556,1021.5 Q560,1024 559.2,1027.5 Q558,1031.5 555.8,1031.1 L525.7,1025.6 Q514,1023 506.6,1018.8 L494.3,1010.6 L442.3,977.1 Q438.5,975 438.9,972.5 Q439.5,969.5 440.3,969.6"/>
<path d="M445,973 L494.3,1004.4" stroke-width="2.1"/>
<path d="M533.9,1020.8 L557.2,1025.6" stroke-width="2.1"/>
<path d="M488.8,990.8 Q492,994.5 495.6,995.5 L505.2,996.9" stroke-width="2.4"/>
<path d="M494.3,1012.6 L471,1047.5" stroke-width="2.2"/>
<path d="M501,1018.8 L495.6,1027" stroke-width="2.1"/>
<path d="M553,1031.1 L551.7,1042 L536.6,1050"/>
<path d="M418.6,1007.5 L374,1060 Q370.5,1065 372,1069 Q374,1074 378.8,1077.2 L423.3,1105.4 Q427,1107 431,1105.5 L536.6,1050"/>
<path d="M442,980 L428,995.2 M446.8,982.3 L428.6,1004" stroke-width="2.1"/>
<path d="M418.6,1016.3 L402.8,1033.3" stroke-width="2.1"/>
<path d="M382.3,1068.4 L416.3,1050.9" stroke-width="2.1"/>
<path d="M427.4,1045.6 L492.9,1012.6" stroke-width="2.1"/>
<path d="M404.5,1088.4 L425.6,1100.1 L444.4,1077.2" stroke-width="2.1"/>
<path d="M435,1103 L444.4,1090 M445.6,1085.4 L459.6,1069 M449.7,1071.4 L459.6,1059.6" stroke-width="2.1"/>
<path d="M459.6,1059.6 L471,1047.5" stroke-width="2"/>
<ellipse cx="420.7" cy="1074.3" rx="12.3" ry="5.4"/>
<path d="M409.5,1072 Q411,1068.5 417,1067.5 M425,1067.5 Q431,1068.5 432,1071.5" stroke-width="2.1"/>
<path d="M459,1057 Q453,1056 452.8,1051.5 Q453.5,1046.5 460,1046" />
<path d="M508.2,1068.7 L566.2,1100.9" stroke-width="2.1"/>

<!-- 17_bolt24_fwd.svg -->
<!-- bolt 24 -->
<path d="M720.6,996.9 L687.2,925.5 Q685.5,921 689,919 Q694,917.5 698,921 L728.4,989.8"/>
<path d="M689,926 Q694,926.5 698.5,923.5 M690.5,930 Q695.5,930.5 700,927.5 M692.5,934 Q697.5,934.5 702,931.5 M694.5,938 Q699.5,938.5 704,935.5 M696.5,942 Q701.5,942.5 704.5,940" stroke-width="2"/>
<path d="M720.6,996.9 Q722.5,999 724.5,998.4 Q728,997.5 729.2,994.5 Q729.5,992 728.4,989.8" stroke-width="2.3"/>
<path d="M717.5,991.4 Q715,993.5 714.4,997.7 Q714.5,1000.5 716.3,1002.3 Q718,1004 720.6,1004.7 Q724.5,1006 728.4,1005.9 Q731.5,1005 734.3,1003.1 Q737,1001 737.8,999.2 Q739,996.5 738.6,994.5 Q738,991.5 736.25,989.8 Q733.5,987 730.4,986.3 L726.9,986.3" stroke-width="2.4"/>
<path d="M717.9,1005.5 Q720,1008 722.6,1009.4 Q725.5,1011 728.4,1011.3 Q731.5,1011 734.7,1009.4 Q737,1007.5 738.2,1004.7 L738.6,1000" stroke-width="2.4"/>
<path d="M725.3,1007.8 L725.7,1009.5 M735.9,1003.9 L737,1005.5" stroke-width="2"/>
<path d="M716,1003 L720.5,1004" stroke-width="2.2"/>
<path d="M681.3,901.2 L687.9,914.9" stroke-width="2"/>
<path d="M716.7,1006.25 L683,1052" stroke-width="1.9"/>
<!-- FWD arrow -->
<path d="M27.5,1125.4 L45.3,1097.3 Q46.5,1095.5 48.7,1098 L49.5,1100 L77,1084.5 Q80,1083 83,1085.5 L83.6,1109.6 L48,1130 L46.7,1137 L27.5,1125.4 Z" stroke-width="2.2"/>
<path d="M29.5,1123 L46.5,1098 M50,1101.5 L79,1086.5" stroke-width="1.9"/>
<g transform="translate(50,1124) rotate(-31)"><text x="0" y="0" style="font-family:'Liberation Sans',sans-serif;font-size:18px;font-style:italic;" fill="#000" stroke="#000" stroke-width="0.9" transform="scale(0.9,1.25) skewX(-8)">FWD</text></g>


</g>
<g class="lbl">
<text x="717.3" y="59.8">&#x2007;6</text>
<text x="715.8" y="102.8">&#x2007;7</text>
<text x="753.9" y="171.4">9</text>
<text x="405.3" y="131.7">&#x2007;0</text>
<text x="187.2" y="289.8">8</text>
<text x="723.0" y="290.9">&#x2007;&#x2007;</text>
<text x="759.4" y="330.7">20</text>
<text x="412.7" y="326.0">22</text>
<text x="505.6" y="340.3">20</text>
<text x="282.6" y="406.0">&#x2007;8</text>
<text x="789.3" y="405.4">2&#x2007;</text>
<text x="658.8" y="481.0">&#x2007;9</text>
<text x="353.6" y="504.4">23</text>
<text x="120.8" y="541.9">&#x2007;5</text>
<text x="328.1" y="545.0">&#x2007;2</text>
<text x="496.2" y="605.0">2&#x2007;</text>
<text x="738.1" y="610.0">7</text>
<text x="51.3" y="677.0">&#x2007;6</text>
<text x="701.9" y="705.8">3</text>
<text x="48.3" y="743.4">&#x2007;7</text>
<text x="681.8" y="753.5">5</text>
<text x="304.6" y="816.7">&#x2007;4</text>
<text x="744.6" y="804.2">&#x2007;</text>
<text x="196.2" y="939.7">&#x2007;3</text>
<text x="342.2" y="889.3">&#x2007;6</text>
<text x="608.0" y="942.0">6</text>
<text x="331.7" y="947.9">&#x2007;7</text>
<text x="606.1" y="998.7">4</text>
<text x="666.7" y="1071.0">24</text>
<text x="569.0" y="1108.8">2</text>
</g>
<g fill="none" stroke="#000" stroke-width="2.1" stroke-linecap="round" stroke-linejoin="round">
<path transform="translate(717.30,59.8)" d="M2.4,-11.3 L6.9,-13.5 L5.6,-0.6"/>
<path transform="translate(715.80,102.8)" d="M2.4,-11.3 L6.9,-13.5 L5.6,-0.6"/>
<path transform="translate(405.30,131.7)" d="M2.4,-11.3 L6.9,-13.5 L5.6,-0.6"/>
<path transform="translate(723.00,290.9)" d="M2.4,-11.3 L6.9,-13.5 L5.6,-0.6"/>
<path transform="translate(734.68,290.9)" d="M2.4,-11.3 L6.9,-13.5 L5.6,-0.6"/>
<path transform="translate(282.60,406.0)" d="M2.4,-11.3 L6.9,-13.5 L5.6,-0.6"/>
<path transform="translate(800.98,405.4)" d="M2.4,-11.3 L6.9,-13.5 L5.6,-0.6"/>
<path transform="translate(658.80,481.0)" d="M2.4,-11.3 L6.9,-13.5 L5.6,-0.6"/>
<path transform="translate(120.80,541.9)" d="M2.4,-11.3 L6.9,-13.5 L5.6,-0.6"/>
<path transform="translate(328.10,545.0)" d="M2.4,-11.3 L6.9,-13.5 L5.6,-0.6"/>
<path transform="translate(507.88,605.0)" d="M2.4,-11.3 L6.9,-13.5 L5.6,-0.6"/>
<path transform="translate(51.30,677.0)" d="M2.4,-11.3 L6.9,-13.5 L5.6,-0.6"/>
<path transform="translate(48.30,743.4)" d="M2.4,-11.3 L6.9,-13.5 L5.6,-0.6"/>
<path transform="translate(304.60,816.7)" d="M2.4,-11.3 L6.9,-13.5 L5.6,-0.6"/>
<path transform="translate(746.8,805.0)" d="M2.4,-11.3 L6.9,-13.5 L5.6,-0.6"/>
<path transform="translate(196.20,939.7)" d="M2.4,-11.3 L6.9,-13.5 L5.6,-0.6"/>
<path transform="translate(342.20,889.3)" d="M2.4,-11.3 L6.9,-13.5 L5.6,-0.6"/>
<path transform="translate(331.70,947.9)" d="M2.4,-11.3 L6.9,-13.5 L5.6,-0.6"/>
</g>
<line x1="476" y1="600.5" x2="480" y2="600.5" stroke="#000" stroke-width="1.8"/>
<text x="29" y="1172.5" style="font-family:'Liberation Sans',sans-serif;font-size:18px;letter-spacing:0.64px;">8CA100-5140</text>
<g stroke="#888" stroke-width="1.2">
<line x1="7" y1="1210.5" x2="53" y2="1210.5"/>
<line x1="156" y1="1210.5" x2="236" y2="1210.5"/>
<line x1="449" y1="1210.5" x2="490" y2="1210.5" stroke="#ccc"/>
<line x1="588" y1="1210.5" x2="609" y2="1210.5" stroke="#ccc"/>
</g>
<line x1="609" y1="1209.5" x2="826" y2="1209.5" stroke="#444" stroke-width="1"/>
</svg>
<div class="copy">©2013 Yamaha Motor Corporation, U.S.A. All rights reserved.</div>
</body></html>
